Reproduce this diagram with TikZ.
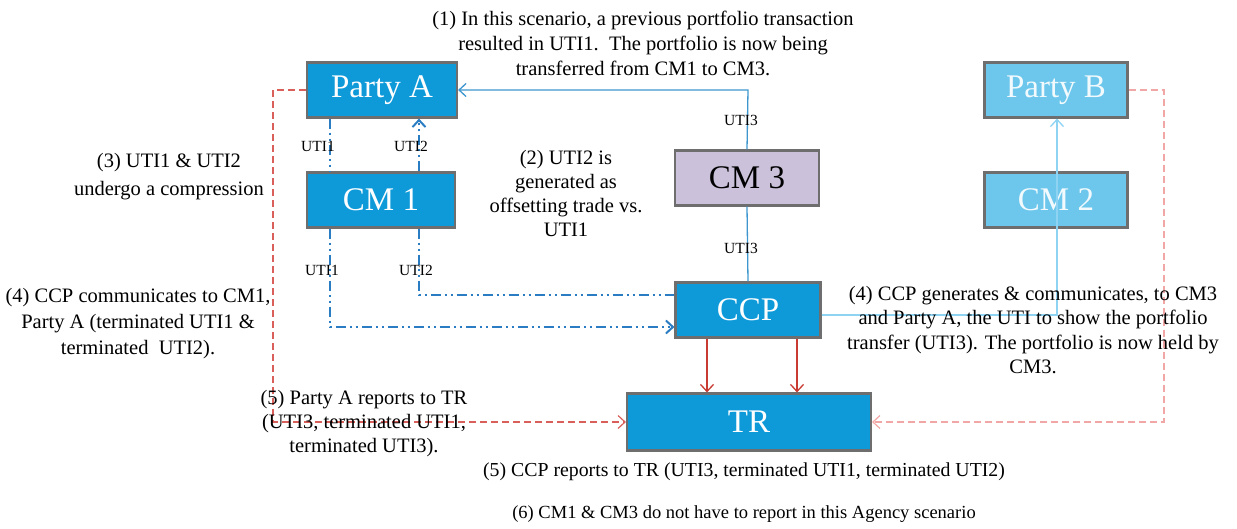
\documentclass[tikz,border=0pt]{standalone}
\usepackage{fontspec}
\setmainfont{Liberation Serif}
\usetikzlibrary{arrows.meta}
\definecolor{boxblue}{HTML}{0E9AD9}
\definecolor{lightbox}{HTML}{6DC7EC}
\definecolor{lav}{HTML}{CBC1DA}
\definecolor{bordergray}{HTML}{6E6E6E}
\definecolor{linkblue}{HTML}{3E96CE}
\definecolor{dashblue}{HTML}{2A7DC2}
\definecolor{paleblue}{HTML}{8ED3F2}
\definecolor{redline}{HTML}{C83A32}
\definecolor{dashred}{HTML}{D9605A}
\definecolor{pinkline}{HTML}{F2A7A7}
\tikzset{
  box/.style={draw=bordergray, line width=2.2pt, fill=boxblue, text=white, minimum width=#1, minimum height=55pt, inner sep=0pt, font=\fontsize{33}{35}\selectfont},
  box/.default=146pt,
  note/.style={align=center, font=\fontsize{20.5}{25}\selectfont, inner sep=0pt},
  small/.style={font=\fontsize{15.5}{16}\selectfont, inner sep=1pt},
  arr/.style={-{Straight Barb[length=7pt,width=13pt]}},
  ddot/.style={dash pattern=on 10pt off 4pt on 2pt off 4pt on 2pt off 4pt},
}
\begin{document}
\begin{tikzpicture}[x=1pt,y=-1pt]
\useasboundingbox (0,0) rectangle (1237,529);
% boxes
\node[box=150pt] (pa) at (382,90) {Party A};
\node[box=148pt] (cm1) at (381,200) {CM 1};
\node[box=144pt, fill=lav, text=black] (cm3) at (747,178) {CM 3};
\node[box=143pt, fill=lightbox, text=white!92!lightbox] (pb) at (1056,90) {Party B};
\node[box=143pt, fill=lightbox, text=white!92!lightbox] (cm2) at (1056,200) {CM 2};
\node[box=145pt] (ccp) at (748,310) {CCP};
\node[box=244pt, minimum height=57pt] (tr) at (749,422) {TR};
% coordinates
\coordinate (c3top) at (748,90);
\coordinate (u1a) at (330,327);
\coordinate (u2a) at (419,295);
\coordinate (pbc) at (1057,315);
\coordinate (la) at (273,90);
\coordinate (lb) at (273,422);
\coordinate (ra) at (1164,90);
\coordinate (rb) at (1164,422);
% CM3 -> Party A
\draw[linkblue, line width=1.3pt, arr] (cm3.north) -- (c3top) -- (pa.east);
\node[small] at (741,120) {UTI3};
% CCP - CM3
\draw[linkblue, line width=1.3pt] (ccp.north) -- (cm3.south);
\node[small] at (741,248) {UTI3};
% Party A <-> CM1
\draw[dashblue, line width=2pt, ddot] (pa.south -| 330,0) -- (cm1.north -| 330,0);
\draw[dashblue, line width=2pt, ddot, arr] (cm1.north -| 419,0) -- (pa.south -| 419,0);
\node[small] at (318,146) {UTI1};
\node[small] at (411,146) {UTI2};
% CM1 -> CCP
\draw[dashblue, line width=2pt, ddot, arr] (cm1.south -| 330,0) -- (u1a) -- (u1a -| ccp.west);
\draw[dashblue, line width=2pt, ddot] (cm1.south -| 419,0) -- (u2a) -- (u2a -| ccp.west);
\node[small] at (322,270) {UTI1};
\node[small] at (416,270) {UTI2};
% CCP -> Party B
\draw[paleblue, line width=1.3pt, arr] (pbc -| ccp.east) -- (pbc) -- (pb.south -| pbc);
% CCP -> TR
\draw[redline, line width=1.3pt, arr] (ccp.south -| 707,0) -- (tr.north -| 707,0);
\draw[redline, line width=1.3pt, arr] (ccp.south -| 797,0) -- (tr.north -| 797,0);
% Party A -> TR
\draw[dashred, line width=1.2pt, dash pattern=on 7pt off 4pt, arr] (pa.west) -- (la) -- (lb) -- (tr.west);
% Party B -> TR
\draw[pinkline, line width=1.2pt, dash pattern=on 7pt off 4pt, arr] (pb.east) -- (ra) -- (rb) -- (tr.east);
% notes
\node[note] (n1) at (643,43) {(1) In this scenario, a previous portfolio transaction\\resulted in UTI1.\ \ The portfolio is now being\\transferred from CM1 to CM3.};
\node[note, font=\fontsize{20.5}{24}\selectfont] (n2) at (566,193) {(2) UTI2 is\\generated as\\offsetting trade vs.\\UTI1};
\node[note, font=\fontsize{20.5}{28}\selectfont] (n3) at (169,177) {(3) UTI1 \& UTI2\\undergo a compression};
\node[note, font=\fontsize{20.5}{26}\selectfont] (n4l) at (138,324) {(4) CCP communicates to CM1,\\Party A (terminated UTI1 \&\\terminated\ \ UTI2).};
\node[note, font=\fontsize{20.5}{24.5}\selectfont] (n4r) at (1033,330) {(4) CCP generates \& communicates, to CM3\\and Party A, the UTI to show the portfolio\\transfer (UTI3). The portfolio is now held by\\CM3.};
\node[note, font=\fontsize{20.5}{24}\selectfont] (n5l) at (364,424) {(5) Party A reports to TR\\(UTI3, terminated UTI1,\\terminated UTI3).};
\node[note, font=\fontsize{19.8}{22}\selectfont] (n5b) at (744,472) {(5) CCP reports to TR (UTI3, terminated UTI1, terminated UTI2)};
\node[note, font=\fontsize{18.5}{22}\selectfont] (n6) at (744,514) {(6) CM1 \& CM3 do not have to report in this Agency scenario};
\end{tikzpicture}
\end{document}
